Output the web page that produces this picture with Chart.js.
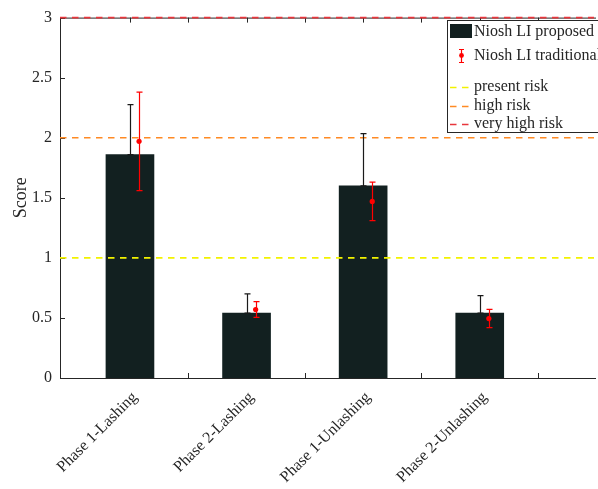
<!DOCTYPE html>
<html>
<head>
<meta charset="utf-8">
<script src="https://cdn.jsdelivr.net/npm/chart.js@4"></script>
<style>
html,body{margin:0;padding:0;background:#fff;overflow:hidden;}
canvas{display:block;}
</style>
</head>
<body>
<canvas id="c" width="598" height="489"></canvas>
<script>
// ---- data ----
const categories = ['Phase 1-Lashing', 'Phase 2-Lashing', 'Phase 1-Unlashing', 'Phase 2-Unlashing'];
const proposed = [1.86, 0.54, 1.60, 0.54];
const proposedErrUpper = [0.415, 0.16, 0.435, 0.145];
const traditional = [1.97, 0.57, 1.47, 0.495];
const traditionalErr = [0.41, 0.065, 0.16, 0.076];
const riskLevels = [1, 2, 3];
const riskNames = ['present risk', 'high risk', 'very high risk'];
const yTicks = [0, 0.5, 1, 1.5, 2, 2.5, 3];
const xTickPositions = [1, 1.5, 2, 2.5, 3, 3.5, 4, 4.5];

// ---- style ----
const FONT = '"Liberation Serif", "Times New Roman", serif';
const TXT = '#262626';
const BAR = '#122020';
const riskColors = ['#f2f200', '#ff8a24', '#e8363c'];
const X_MIN = 0.4, X_MAX = 4.98, TRAD_OFFSET = 0.078;

const positions = categories.map((_, i) => i + 1);

const datasets = [
  {
    type: 'bar', label: 'Niosh LI proposed',
    data: positions.map((p, i) => ({x: p, y: proposed[i]})),
    backgroundColor: BAR, borderWidth: 0,
    barThickness: 48, order: 3
  },
  {
    type: 'scatter', label: 'Niosh LI traditional',
    data: positions.map((p, i) => ({x: p + TRAD_OFFSET, y: traditional[i]})),
    backgroundColor: '#ff0000', borderColor: '#ff0000', pointRadius: 2.6, borderWidth: 0, order: 0
  }
];
riskLevels.forEach((lv, i) => {
  datasets.push({
    type: 'line', label: riskNames[i],
    data: [{x: X_MIN, y: lv}, {x: X_MAX, y: lv}],
    borderColor: riskColors[i], borderWidth: 1.6, borderDash: [6.5, 5.5],
    pointRadius: 0, fill: false, order: 1, clip: 4
  });
});

const framePlugin = {
  id: 'frame',
  beforeDatasetsDraw(chart) {
    const {ctx, chartArea: {left, right, top, bottom}, scales: {x, y}} = chart;
    ctx.save();
    ctx.strokeStyle = TXT; ctx.lineWidth = 1;
    ctx.beginPath();
    ctx.moveTo(left + 0.5, top + 0.5); ctx.lineTo(left + 0.5, bottom + 0.5);
    ctx.moveTo(left, bottom + 0.5); ctx.lineTo(right + 2, bottom + 0.5);
    ctx.moveTo(left, top + 0.5); ctx.lineTo(right + 2, top + 0.5);
    x.ticks.forEach(t => {
      const px = Math.round(x.getPixelForValue(t.value)) + 0.5;
      ctx.moveTo(px, bottom); ctx.lineTo(px, bottom - 5);
      ctx.moveTo(px, top); ctx.lineTo(px, top + 5);
    });
    y.ticks.forEach(t => {
      const py = Math.round(y.getPixelForValue(t.value)) + 0.5;
      ctx.moveTo(left, py); ctx.lineTo(left + 5, py);
    });
    ctx.stroke();
    ctx.restore();
  }
};

function errBar(ctx, px, yTop, yBot, cap) {
  ctx.beginPath();
  ctx.moveTo(px, yTop); ctx.lineTo(px, yBot);
  ctx.moveTo(px - cap, yTop); ctx.lineTo(px + cap, yTop);
  ctx.moveTo(px - cap, yBot); ctx.lineTo(px + cap, yBot);
  ctx.stroke();
}

const errorPlugin = {
  id: 'errors',
  afterDatasetsDraw(chart) {
    const {ctx, scales: {x, y}} = chart;
    ctx.save();
    ctx.lineWidth = 1.2;
    ctx.strokeStyle = '#1a1a1a';
    positions.forEach((p, i) => {
      const px = Math.round(x.getPixelForValue(p)) + 0.5;
      errBar(ctx, px, y.getPixelForValue(proposed[i] + proposedErrUpper[i]), y.getPixelForValue(proposed[i]), 3);
    });
    ctx.strokeStyle = '#ff0000';
    positions.forEach((p, i) => {
      const px = Math.round(x.getPixelForValue(p + TRAD_OFFSET)) + 0.5;
      errBar(ctx, px, y.getPixelForValue(traditional[i] + traditionalErr[i]), y.getPixelForValue(traditional[i] - traditionalErr[i]), 3);
    });
    ctx.restore();
  }
};

const legendPlugin = {
  id: 'customLegend',
  afterDraw(chart) {
    const ctx = chart.ctx;
    ctx.save();
    const bx = 447.5, by = 20.5, bw = 200, bh = 112;
    ctx.fillStyle = '#fff';
    ctx.fillRect(bx, by, bw, bh);
    ctx.strokeStyle = TXT; ctx.lineWidth = 1;
    ctx.strokeRect(bx, by, bw, bh);
    ctx.font = '16px ' + FONT;
    ctx.fillStyle = TXT;
    ctx.textBaseline = 'middle'; ctx.textAlign = 'left';
    const tx = 474;
    ctx.fillStyle = BAR;
    ctx.fillRect(450, 24, 22, 14);
    ctx.fillStyle = TXT;
    ctx.fillText(datasets[0].label, tx, 32);
    ctx.strokeStyle = '#ff0000'; ctx.lineWidth = 1.2;
    errBar(ctx, 461.5, 49.5, 62.5, 2.5);
    ctx.fillStyle = '#ff0000';
    ctx.beginPath(); ctx.arc(461.5, 55.5, 2.4, 0, Math.PI * 2); ctx.fill();
    ctx.fillStyle = TXT;
    ctx.fillText(datasets[1].label, tx, 56);
    const ys = [87, 106, 124];
    riskLevels.forEach((lv, i) => {
      ctx.strokeStyle = riskColors[i]; ctx.lineWidth = 1.6;
      ctx.setLineDash([6.5, 5.5]);
      ctx.beginPath(); ctx.moveTo(450, ys[i] + 0.5); ctx.lineTo(472, ys[i] + 0.5); ctx.stroke();
      ctx.setLineDash([]);
      ctx.fillStyle = TXT;
      ctx.fillText(riskNames[i], tx, ys[i]);
    });
    ctx.restore();
  }
};

new Chart(document.getElementById('c'), {
  data: {datasets},
  options: {
    responsive: false, animation: false, devicePixelRatio: 1,
    layout: {padding: {top: 15, right: 0, left: 0, bottom: 0}},
    plugins: {legend: {display: false}, tooltip: {enabled: false}},
    scales: {
      x: {
        type: 'linear', min: X_MIN, max: X_MAX, offset: false,
        grid: {display: false, drawTicks: false},
        border: {display: false},
        afterBuildTicks(scale) { scale.ticks = xTickPositions.map(v => ({value: v})); },
        afterFit(scale) { scale.height = 111; scale.paddingRight = 0; scale.paddingLeft = 0; },
        ticks: {
          autoSkip: false, maxRotation: 45, minRotation: 45, padding: 10, labelOffset: 5,
          color: TXT, font: {family: FONT, size: 16},
          callback(v) { return Number.isInteger(v) ? categories[v - 1] : ''; }
        }
      },
      y: {
        type: 'linear', min: 0, max: 3,
        grid: {display: false, drawTicks: false},
        border: {display: false},
        afterBuildTicks(scale) { scale.ticks = yTicks.map(v => ({value: v})); },
        afterFit(scale) { scale.width = 60; },
        ticks: {padding: 8, color: TXT, font: {family: FONT, size: 16}, callback(v) { return String(v); }},
        title: {display: true, text: 'Score', color: TXT, font: {family: FONT, size: 18, lineHeight: 1.2}, padding: {top: 10, bottom: 0}}
      }
    }
  },
  plugins: [framePlugin, errorPlugin, legendPlugin]
});
</script>
</body>
</html>
